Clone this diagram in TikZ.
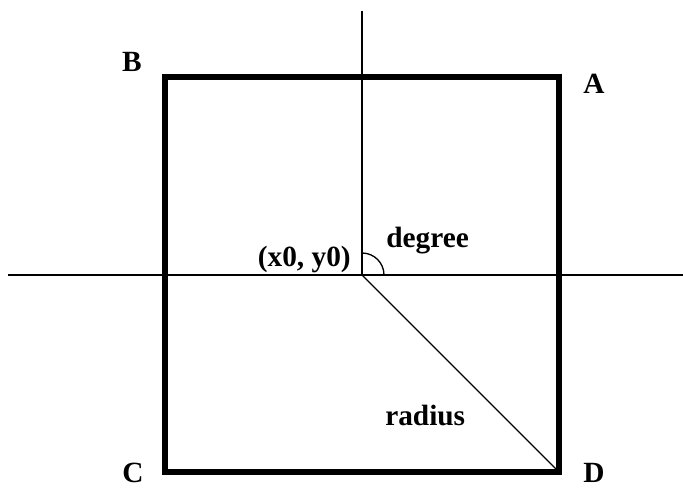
\documentclass[tikz,border=0pt]{standalone}
\usepackage{fontspec}
\setmainfont{Liberation Serif}
\begin{document}
\begin{tikzpicture}[x=0.75pt,y=-0.75pt,
	lab/.style={font=\fontsize{22}{26}\selectfont\bfseries,inner sep=0pt},
	axis/.style={line width=1pt},
	box/.style={line width=4.5pt,line join=miter}]
	\useasboundingbox (0,0) rectangle (683,489);
	\coordinate (O) at (362,275);
	\coordinate (A) at (559,77);
	\coordinate (B) at (165,77);
	\coordinate (C) at (165,472);
	\coordinate (D) at (559,472);
	\coordinate (top) at (362,11);
	\coordinate (left) at (8,275);
	\coordinate (right) at (683,275);
	\draw[box] (B) -- (A) -- (D) -- (C) -- cycle;
	\draw[axis] (left) -- (right);
	\draw[axis] (top) -- (O);
	\draw[axis] (O) -- (D);
	\draw[axis] ([shift={(0,-22)}]O) arc (-90:0:22);
	\node[lab] (labA) at (594,84) {A};
	\node[lab] (labB) at (132,62) {B};
	\node[lab] (labC) at (133,473) {C};
	\node[lab] (labD) at (594,473) {D};
	\node[lab,anchor=base east] (labO) at (351,266) {(x0, y0)};
	\node[lab,anchor=base west] (labdeg) at (386,247) {degree};
	\node[lab,anchor=base west] (labrad) at (385,425) {radius};
\end{tikzpicture}
\end{document}
